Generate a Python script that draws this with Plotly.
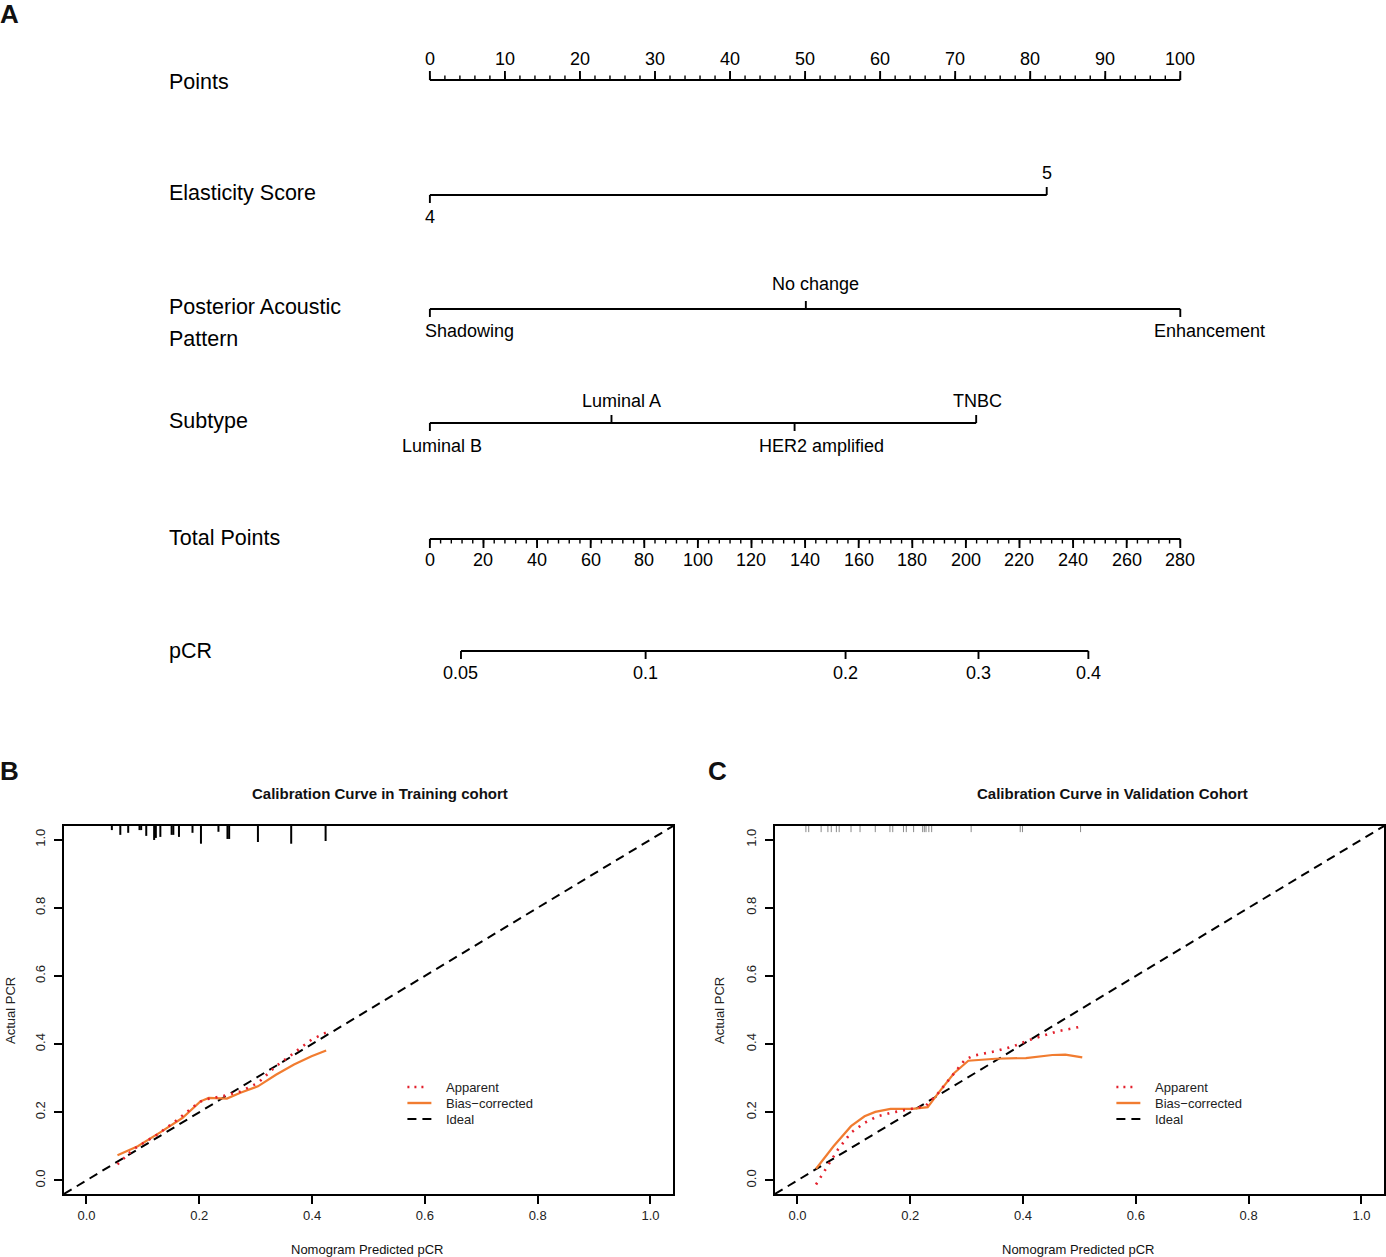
import plotly.graph_objects as go

W, H = 1386, 1257
FONT = "Liberation Sans, Arial, sans-serif"

# ---- nomogram (panel A) ----
points_ticks = list(range(0, 101, 10))
points_minor = list(range(0, 101, 2))
elasticity_levels = ["4", "5"]
elasticity_points = [0, 82.2]
pap_levels = ["Shadowing", "No change", "Enhancement"]
pap_points = [0, 50.1, 100]
subtype_levels = ["Luminal B", "Luminal A", "HER2 amplified", "TNBC"]
subtype_points = [0, 24.2, 48.6, 72.8]
total_ticks = list(range(0, 281, 20))
total_minor = list(range(0, 281, 4))
total_max = 280
pcr_labels = ["0.05", "0.1", "0.2", "0.3", "0.4"]
pcr_total = [11.6, 80.5, 155.1, 204.7, 245.7]

# ---- calibration, training cohort (panel B) ----
train_app_x = [0.055, 0.083, 0.126, 0.162, 0.198, 0.209, 0.241, 0.273, 0.304, 0.336, 0.368, 0.399, 0.425]
train_app_y = [0.047, 0.091, 0.135, 0.179, 0.227, 0.237, 0.247, 0.261, 0.286, 0.335, 0.374, 0.413, 0.434]
train_bc_x = [0.055, 0.091, 0.130, 0.170, 0.202, 0.217, 0.249, 0.273, 0.304, 0.336, 0.368, 0.399, 0.425]
train_bc_y = [0.074, 0.100, 0.140, 0.183, 0.232, 0.242, 0.240, 0.257, 0.276, 0.310, 0.340, 0.364, 0.381]
train_rug_x = [0.045, 0.060, 0.074, 0.094, 0.097, 0.106, 0.120, 0.123, 0.131, 0.151,
               0.154, 0.164, 0.188, 0.203, 0.234, 0.250, 0.253, 0.304, 0.363, 0.424]
train_rug_h = [0.012, 0.026, 0.020, 0.012, 0.012, 0.029, 0.041, 0.035, 0.032, 0.026,
               0.026, 0.032, 0.020, 0.052, 0.017, 0.038, 0.038, 0.047, 0.052, 0.044]

# ---- calibration, validation cohort (panel C) ----
valid_app_x = [0.033, 0.049, 0.072, 0.095, 0.119, 0.142, 0.165, 0.196, 0.227, 0.250,
               0.274, 0.297, 0.312, 0.351, 0.382, 0.413, 0.460, 0.505]
valid_app_y = [-0.012, 0.032, 0.091, 0.140, 0.169, 0.188, 0.198, 0.208, 0.218, 0.257,
               0.305, 0.354, 0.366, 0.379, 0.393, 0.413, 0.437, 0.452]
valid_bc_x = [0.033, 0.064, 0.095, 0.119, 0.138, 0.165, 0.204, 0.231, 0.250, 0.278,
              0.303, 0.351, 0.405, 0.452, 0.475, 0.505]
valid_bc_y = [0.034, 0.100, 0.159, 0.188, 0.201, 0.210, 0.210, 0.215, 0.257, 0.315,
              0.351, 0.357, 0.359, 0.368, 0.369, 0.361]
valid_rug_x = [0.015, 0.020, 0.042, 0.054, 0.060, 0.069, 0.074, 0.095, 0.111, 0.138, 0.164, 0.169,
               0.188, 0.193, 0.206, 0.222, 0.225, 0.228, 0.233, 0.238, 0.308, 0.395, 0.399, 0.502]
valid_rug_h = [0.018] * len(valid_rug_x)

ideal = [-0.04, 1.04]

RED = "#E3202C"
ORANGE = "#F17C30"


def px(x):
    return x / W


def py(y):
    return 1 - y / H


def segs(x0, y0, x1, y1):
    xs, ys = [], []
    for a, b, c, d in zip(x0, y0, x1, y1):
        xs += [a, c, None]
        ys += [b, d, None]
    return xs, ys


fig = go.Figure()
ann = []


def line_tr(xs, ys, xa="x", ya="y", color="black", width=1.9, dash=None):
    fig.add_trace(go.Scatter(x=xs, y=ys, mode="lines", xaxis=xa, yaxis=ya, showlegend=False,
                             hoverinfo="skip", line=dict(color=color, width=width, dash=dash)))


def txt(x, y, s, size=18, xanchor="center", xshift=0, xref="x", yref="y", bold=False, angle=0, color="black"):
    ann.append(dict(x=x, y=y, xref=xref, yref=yref, text=("<b>%s</b>" % s) if bold else s,
                    showarrow=False, xanchor=xanchor, yanchor="middle", xshift=xshift, textangle=angle,
                    font=dict(family=FONT, size=size, color=color)))


# ---------------- panel A ----------------
tp = lambda t: t * 100.0 / total_max

# Points
line_tr([0, 100], [80, 80])
xs, ys = segs(points_minor, [80] * len(points_minor), points_minor, [75.5] * len(points_minor))
line_tr(xs, ys, width=1.4)
xs, ys = segs(points_ticks, [80] * len(points_ticks), points_ticks, [71] * len(points_ticks))
line_tr(xs, ys)
for t in points_ticks:
    txt(t, 59, str(t))

# Elasticity Score
line_tr([elasticity_points[0], elasticity_points[-1]], [195, 195])
line_tr(*segs(elasticity_points, [195, 195], elasticity_points, [203, 187]))
txt(elasticity_points[0], 217, elasticity_levels[0])
txt(elasticity_points[1], 173, elasticity_levels[1])

# Posterior Acoustic Pattern
line_tr([pap_points[0], pap_points[-1]], [309, 309])
line_tr(*segs(pap_points, [309] * 3, pap_points, [317, 301, 317]))
txt(pap_points[0], 331, pap_levels[0], xshift=40)
txt(pap_points[1], 284, pap_levels[1], xshift=10)
txt(pap_points[2], 331, pap_levels[2], xshift=29)

# Subtype
line_tr([subtype_points[0], subtype_points[-1]], [423, 423])
line_tr(*segs(subtype_points, [423] * 4, subtype_points, [431, 415, 431, 415]))
txt(subtype_points[0], 446, subtype_levels[0], xshift=12)
txt(subtype_points[1], 401, subtype_levels[1], xshift=10)
txt(subtype_points[2], 446, subtype_levels[2], xshift=27)
txt(subtype_points[3], 401, subtype_levels[3], xshift=1)

# Total Points
line_tr([0, tp(total_max)], [539, 539])
mx = [tp(t) for t in total_minor]
line_tr(*segs(mx, [539] * len(mx), mx, [543.5] * len(mx)), width=1.4)
jx = [tp(t) for t in total_ticks]
line_tr(*segs(jx, [539] * len(jx), jx, [548] * len(jx)))
for t in total_ticks:
    txt(tp(t), 560, str(t))

# pCR
qx = [tp(t) for t in pcr_total]
line_tr([qx[0], qx[-1]], [651, 651])
line_tr(*segs(qx, [651] * len(qx), qx, [659] * len(qx)))
for x, s in zip(qx, pcr_labels):
    txt(x, 673, s)

# row labels
for y, s in [(82, "Points"), (193, "Elasticity Score"), (307, "Posterior Acoustic"),
             (339, "Pattern"), (421, "Subtype"), (538, "Total Points"), (651, "pCR")]:
    ann.append(dict(x=px(167), y=py(y), xref="paper", yref="paper", text=s, showarrow=False,
                    xanchor="left", yanchor="middle", font=dict(family=FONT, size=21.5, color="black")))

# ---------------- panels B and C ----------------
panels = [
    ("x2", "y2", train_app_x, train_app_y, train_bc_x, train_bc_y, train_rug_x, train_rug_h, "black", 2.0),
    ("x3", "y3", valid_app_x, valid_app_y, valid_bc_x, valid_bc_y, valid_rug_x, valid_rug_h, "#8a8a8a", 1.0),
]
for xa, ya, ax_, ay_, bx_, by_, rx, rh, rc, rw in panels:
    line_tr(ideal, ideal, xa, ya, color="black", width=2, dash="9px,6px")
    line_tr(bx_, by_, xa, ya, color=ORANGE, width=2.2)
    line_tr(ax_, ay_, xa, ya, color=RED, width=2.6, dash="2px,6px")
    top = 1.04
    line_tr(*segs(rx, [top] * len(rx), rx, [top - h for h in rh]), xa, ya, color=rc, width=rw)

shapes = []
for lx, tx in [(408, 445), (1118, 1155)]:
    for yy, col, dash, w, ln in [(1087, RED, "2px,5px", 2.6, 20), (1103, ORANGE, "solid", 2.4, 24),
                                 (1119, "black", "9px,6px", 2, 24)]:
        shapes.append(dict(type="line", xref="paper", yref="paper", x0=px(lx), x1=px(lx + ln),
                           y0=py(yy), y1=py(yy), line=dict(color=col, width=w, dash=dash)))
    for yy, s in [(1087, "Apparent"), (1103, "Bias\u2212corrected"), (1119, "Ideal")]:
        ann.append(dict(x=px(tx), y=py(yy), xref="paper", yref="paper", text=s, showarrow=False,
                        xanchor="left", yanchor="middle", font=dict(family=FONT, size=13, color="#222")))

for x, y, s, size, bold in [(10, 14, "A", 26, True), (10, 771, "B", 26, True), (719, 771, "C", 26, True),
                            (381, 793, "Calibration Curve in Training cohort", 15, True),
                            (1114, 793, "Calibration Curve in Validation Cohort", 15, True),
                            (368, 1249, "Nomogram Predicted pCR", 13, False),
                            (1080, 1249, "Nomogram Predicted pCR", 13, False)]:
    txt(px(x), py(y), s, size=size, xref="paper", yref="paper", bold=bold, color="#111")
for x in (10, 720):
    txt(px(x), py(1010), "Actual PCR", size=13, xref="paper", yref="paper", angle=-90, color="#222")

cal_x = dict(range=[-0.04, 1.04], tickvals=[0, 0.2, 0.4, 0.6, 0.8, 1.0],
             ticktext=["0.0", "0.2", "0.4", "0.6", "0.8", "1.0"], showline=True, linewidth=2,
             linecolor="black", mirror=True, ticks="outside", ticklen=8, tickwidth=2, tickcolor="black",
             showgrid=False, zeroline=False, tickfont=dict(family=FONT, size=13, color="#222"))
cal_y = dict(cal_x, tickangle=-90, domain=[py(1194), py(826)], ticklabelstandoff=4)

fig.update_layout(
    width=W, height=H, autosize=False,
    margin=dict(l=0, r=0, t=0, b=0),
    paper_bgcolor="white", plot_bgcolor="white",
    xaxis=dict(domain=[0, 1], range=[-430.5 / 7.515, (W - 430.5) / 7.515], visible=False),
    yaxis=dict(domain=[0, 1], range=[H, 0], visible=False),
    xaxis2=dict(cal_x, domain=[px(64), px(674)], anchor="y2"),
    yaxis2=dict(cal_y, anchor="x2"),
    xaxis3=dict(cal_x, domain=[px(776), 1.0], anchor="y3"),
    yaxis3=dict(cal_y, anchor="x3"),
    annotations=ann,
    shapes=shapes,
)

# drop the default page margin so the figure sits at the window's top-left corner
fig.write_html("out.html", config={"displayModeBar": False},
               post_script="document.body.style.margin='0px';")
